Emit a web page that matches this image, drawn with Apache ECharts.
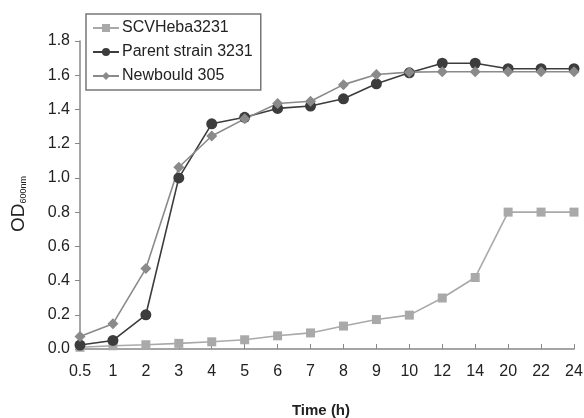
<!DOCTYPE html>
<html>
<head>
<meta charset="utf-8">
<script src="https://cdn.jsdelivr.net/npm/echarts@6/dist/echarts.min.js"></script>
<style>
  html, body { margin: 0; padding: 0; background: #fff; }
  #chart { width: 584px; height: 418px; }
</style>
</head>
<body>
<div id="chart"></div>
<script>
// time points (h) - shown as evenly spaced categories
var hours = ['0.5', '1', '2', '3', '4', '5', '6', '7', '8', '9', '10', '12', '14', '20', '22', '24'];

var scvHeba = [0.01, 0.019, 0.025, 0.033, 0.042, 0.054, 0.077, 0.094, 0.134, 0.172, 0.198, 0.298, 0.418, 0.80, 0.80, 0.80];
var parent3231 = [0.023, 0.05, 0.20, 1.00, 1.316, 1.354, 1.406, 1.42, 1.462, 1.55, 1.614, 1.67, 1.67, 1.638, 1.638, 1.638];
var newbould305 = [0.073, 0.148, 0.47, 1.062, 1.245, 1.345, 1.435, 1.448, 1.545, 1.604, 1.618, 1.62, 1.62, 1.62, 1.62, 1.62];

var yTicks = [0, 0.2, 0.4, 0.6, 0.8, 1.0, 1.2, 1.4, 1.6, 1.8];

var chart = echarts.init(document.getElementById('chart'));

function line(name, data, symbol, size, color) {
    return {
        name: name,
        type: 'line',
        data: data,
        symbol: symbol,
        symbolSize: size,
        showSymbol: true,
        lineStyle: { color: color, width: 1.6 },
        itemStyle: { color: color },
        z: 3
    };
}

var option = {
    animation: false,
    backgroundColor: '#fff',
    textStyle: { fontFamily: 'Liberation Sans, Arial, sans-serif' },
    grid: { left: 80, right: 10, top: 41, bottom: 69, containLabel: false, outerBoundsMode: 'none' },
    legend: {
        orient: 'vertical',
        left: 86,
        top: 14,
        padding: [6, 8, 6, 6],
        itemGap: 8,
        itemWidth: 26,
        itemHeight: 10,
        borderColor: '#777',
        borderWidth: 1.5,
        textStyle: { fontSize: 16, color: '#222', padding: [0, 0, 0, -2] },
        data: ['SCVHeba3231', 'Parent strain 3231', 'Newbould 305']
    },
    xAxis: {
        type: 'category',
        data: hours,
        boundaryGap: false,
        name: 'Time (h)',
        nameLocation: 'middle',
        nameGap: 54,
        nameTextStyle: { fontSize: 15, color: '#222', fontWeight: 'bold', padding: [0, 12, 0, 0] },
        axisLine: { lineStyle: { color: '#888', width: 1.5 } },
        axisTick: { inside: true, length: 5, alignWithLabel: true, lineStyle: { color: '#888' } },
        axisLabel: { fontSize: 16, color: '#222', margin: 15, interval: 0 },
        splitLine: { show: false }
    },
    yAxis: {
        type: 'value',
        min: 0,
        max: 1.8,
        interval: 0.2,
        name: '{od|OD}{sub|600nm}',
        nameLocation: 'middle',
        nameGap: 52,
        nameRotate: 90,
        nameTextStyle: {
            padding: [0, 18, 0, 0],
            rich: {
                od: { fontSize: 19, color: '#222' },
                sub: { fontSize: 9, color: '#222', padding: [10, 0, 0, 0] }
            }
        },
        axisLine: { show: true, lineStyle: { color: '#888', width: 1.5 } },
        axisTick: { show: true, length: 5, lineStyle: { color: '#888' } },
        axisLabel: {
            fontSize: 16, color: '#222', margin: 10,
            formatter: function (v) {
                var t = yTicks.filter(function (k) { return Math.abs(k - v) < 1e-6; });
                return t.length ? t[0].toFixed(1) : '';
            }
        },
        splitLine: { show: false }
    },
    series: [
        line('SCVHeba3231', scvHeba, 'rect', 9, '#a9a9a9'),
        line('Parent strain 3231', parent3231, 'circle', 11, '#3c3c3c'),
        line('Newbould 305', newbould305, 'diamond', 11, '#8a8a8a')
    ]
};

chart.setOption(option);
</script>
</body>
</html>
